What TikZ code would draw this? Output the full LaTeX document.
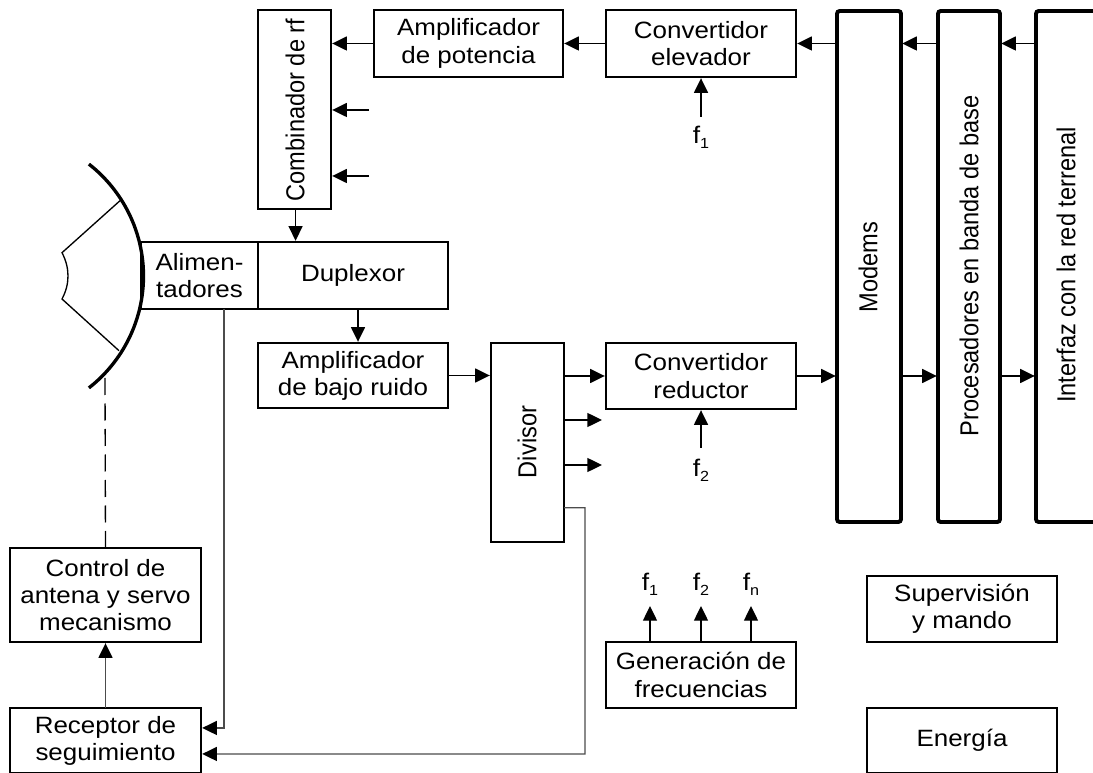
\documentclass[tikz,border=0pt]{standalone}
\usepackage{fontspec}
\setmainfont[FakeStretch=1.1]{Liberation Sans}
\newfontfamily\rotfont{Liberation Sans}
\usetikzlibrary{arrows.meta}
\tikzset{
 x=0.75pt,y=-0.75pt,
 bx/.style={draw=black,line width=1.9pt,align=center,inner sep=0pt,outer sep=0pt,anchor=north west,font=\fontsize{17.7}{20.4}\selectfont},
 tb/.style={bx,line width=2.9pt,rounded corners=2pt},
 lab/.style={inner sep=0pt,rotate=90,font=\rotfont\fontsize{17.7}{20}\selectfont},
 fl/.style={inner sep=0pt,font=\fontsize{18}{18}\selectfont},
 ar/.style={line width=1pt,shorten >=0.9pt,-{Triangle[length=11pt,width=10.5pt]}},
 ln/.style={line width=1pt},
 thinar/.style={ar,draw=black!70,{-{Triangle[length=11pt,width=10.5pt,black]}}},
}
\newcommand{\mybox}[6][bx]{\node[#1,minimum width=#4*0.75pt,minimum height=#5*0.75pt] (#2) at (#3) {#6};}
\newcommand{\rlab}[1]{\scalebox{1}[1.1]{#1}}
\newcommand{\fsub}[1]{f\raisebox{-3.5pt}{\fontsize{11}{11}\selectfont #1}}
\begin{document}
\begin{tikzpicture}
\useasboundingbox (0,0) rectangle (1093,773);
\clip (0,0) rectangle (1093,773);
\mybox{comb}{258,10}{73}{199}{}
\node[lab] (combt) at (295,110) {\rlab{Combinador de rf}};
\mybox{apot}{374,10}{189}{67}{Amplificador\\de potencia}
\mybox{cele}{606,10}{190}{67}{Convertidor\\elevador}
\mybox[tb]{mod}{837,11}{64}{511}{}
\mybox[tb]{proc}{938,11}{62}{511}{}
\mybox[tb]{inte}{1036,11}{72}{511}{}
\node[lab] (modt) at (868,267) {\rlab{Modems}};
\node[lab] (proct) at (969,266) {\rlab{Procesadores en banda de base}};
\node[lab] (intet) at (1066,265) {\rlab{Interfaz con la red terrenal}};
\mybox{alim}{141,242}{117}{67}{Alimen-\\tadores}
\mybox{dup}{258,242}{190}{67}{Duplexor}
\mybox{abr}{258,343}{190}{65}{Amplificador\\de bajo ruido}
\mybox{div}{491,343}{73}{199}{}
\node[lab] (divt) at (527,442) {\rlab{Divisor}};
\mybox{cred}{606,343}{190}{66}{Convertidor\\reductor}
\mybox{ctrl}{10,548}{191}{94}{Control de\\antena y servo\\mecanismo}
\mybox{rec}{10,708}{191}{65}{Receptor de\\seguimiento}
\mybox{gen}{606,642}{190}{66}{Generación de\\frecuencias}
\mybox{sup}{867,576}{190}{66}{Supervisión\\y mando}
\mybox{ene}{867,708}{190}{65}{Energía}
% antenna
\coordinate (d0) at (88.9,164.1);
\coordinate (d1) at (143.5,276);
\coordinate (d2) at (88.9,387.9);
\draw[line width=2.5pt] (d0) .. controls (123.3,191) and (143.5,232.3) .. (d1) .. controls (143.5,319.7) and (123.3,361) .. (d2);
\coordinate (fa) at (120,200.7);
\coordinate (fb) at (62,252.7);
\coordinate (fc) at (62,299);
\coordinate (fd) at (119,350.7);
\draw[ln] (fa) -- (fb) .. controls (70,268) and (70,284) .. (fc) -- (fd);
% dashed link
\coordinate (dishfoot) at (105,378);
\draw[line width=1pt,dash pattern=on 12.75pt off 6.375pt] (ctrl.north) -- (dishfoot);
% top row
\draw[ar] (apot.west) -- (apot.west -| comb.east);
\draw[ar] (cele.west) -- (cele.west -| apot.east);
\draw[ar] (mod.west |- cele.east) -- (cele.east);
\draw[ar] (proc.west |- cele.east) -- (mod.east |- cele.east);
\draw[ar] (inte.west |- cele.east) -- (proc.east |- cele.east);
\coordinate (cin1) at (369,110);
\coordinate (cin2) at (369,176);
\draw[ar] (cin1) -- (cin1 -| comb.east);
\draw[ar] (cin2) -- (cin2 -| comb.east);
\draw[ar] ([xshift=0.8pt]comb.south) -- ([xshift=0.8pt]comb.south |- dup.north);
\draw[ar] ([xshift=3.75pt]dup.south) -- ([xshift=3.75pt]abr.north);
% middle row
\draw[ar] (abr.east) -- (abr.east -| div.west);
\draw[ar] (cred.west -| div.east) -- (cred.west);
\draw[ar] (cred.east) -- (cred.east -| mod.west);
\draw[ar] (mod.east |- cred.east) -- (proc.west |- cred.east);
\draw[ar] (proc.east |- cred.east) -- (inte.west |- cred.east);
\coordinate (dout1) at (602,420);
\coordinate (dout2) at (602,465);
\draw[ar,shorten >=0pt] (dout1 -| div.east) -- (dout1);
\draw[ar,shorten >=0pt] (dout2 -| div.east) -- (dout2);
% f labels and arrows
\node[fl] (f1) at (701,137) {\fsub{1}};
\node[fl] (f2) at (701,470) {\fsub{2}};
\coordinate (f1s) at (701,117);
\coordinate (f2s) at (701,448);
\draw[ar] (f1s) -- (f1s |- cele.south);
\draw[ar] (f2s) -- (f2s |- cred.south);
\node[fl] (g1) at (650,584) {\fsub{1}};
\node[fl] (g2) at (701,584) {\fsub{2}};
\node[fl] (gn) at (751,584) {\fsub{n}};
\coordinate (g1t) at (650,606);
\coordinate (g2t) at (701,606);
\coordinate (gnt) at (751,606);
\draw[ar,shorten >=0pt] (g1t |- gen.north) -- (g1t);
\draw[ar,shorten >=0pt] (g2t |- gen.north) -- (g2t);
\draw[ar,shorten >=0pt] (gnt |- gen.north) -- (gnt);
% tracking
\draw[thinar] (ctrl.south |- rec.north) -- (ctrl.south);
\draw[thinar] ([xshift=18.4pt]alim.south) |- ([yshift=9.4pt]rec.east);
\coordinate (dturn) at (585,754);
\draw[thinar] ([yshift=-49pt]div.east) -| (dturn) -- ([yshift=-10.1pt]rec.east);
\end{tikzpicture}
\end{document}
